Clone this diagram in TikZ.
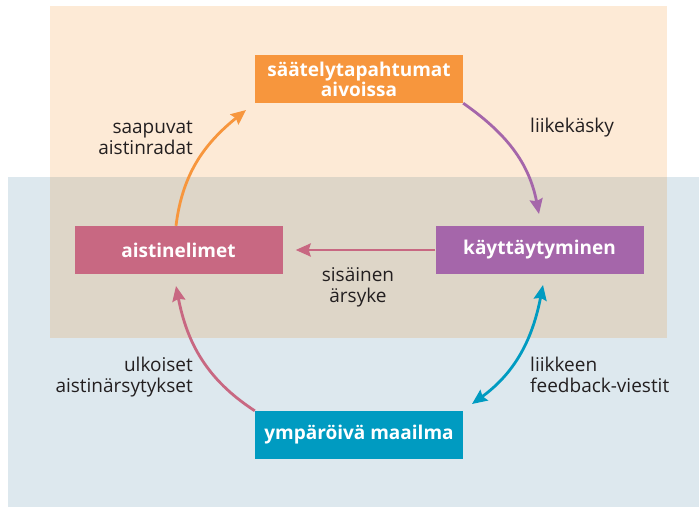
\documentclass[tikz,border=0pt]{standalone}
\usepackage{fontspec}
\setmainfont{Open Sans}
\usetikzlibrary{arrows.meta}
\definecolor{bgorange}{HTML}{FDEAD6}
\definecolor{bgblue}{HTML}{DDE8EE}
\definecolor{bgmix}{HTML}{DED6C8}
\definecolor{corange}{HTML}{F7963D}
\definecolor{cpink}{HTML}{C86882}
\definecolor{cpurple}{HTML}{A566AA}
\definecolor{cblue}{HTML}{009BC1}
\definecolor{ctext}{HTML}{231F20}
\tikzset{
  boxnode/.style={minimum width=208pt, minimum height=48pt, inner sep=0pt, text=white,
    font=\fontsize{19}{18.5}\selectfont\bfseries, align=center},
  lbl/.style={text=ctext, font=\fontsize{19}{20.5}\selectfont, inner sep=0pt},
  conn/.style={line width=2.8pt, -{Stealth[length=15pt,width=13pt,inset=2pt]}},
}
\begin{document}
\begin{tikzpicture}[x=1pt,y=1pt]
\useasboundingbox (0,0) rectangle (699,-508);
\fill[white] (0,0) rectangle (699,-508);
\fill[bgblue] (8,-177) rectangle (699,-507);
\fill[bgorange] (50,-6) rectangle (667,-177);
\fill[bgmix] (50,-177) rectangle (667,-338);

\node[boxnode, fill=corange] (saat) at (359,-79) {säätelytapahtumat\\aivoissa};
\node[boxnode, fill=cpink] (aist) at (178.5,-250) {aistinelimet};
\node[boxnode, fill=cpurple] (kay) at (539.5,-250) {käyttäytyminen};
\node[boxnode, fill=cblue] (ymp) at (359,-435) {ympäröivä maailma};

\coordinate (t1) at (246,-110);
\coordinate (t2) at (539,-214);
\coordinate (t3) at (176,-286);
\coordinate (t4a) at (543,-285);
\coordinate (t4b) at (472,-404);

\draw[conn, draw=corange] (aist.north -| 176,0) to[out=83, in=219] (t1);
\draw[conn, draw=cpurple] (saat.south east) to[out=-35, in=101] (t2);
\draw[conn, draw=cpink, shorten >=0pt] (kay.west) -- ([xshift=13pt]aist.east);
\draw[conn, draw=cpink] (ymp.north west) to[out=147, in=-79] (t3);
\draw[line width=2.8pt, draw=cblue, {Stealth[length=15pt,width=13pt,inset=2pt]}-{Stealth[length=15pt,width=13pt,inset=2pt]}] (t4a) to[out=-101, in=36] (t4b);

\node[lbl, align=right, anchor=base east] (l1) at (193,-154) {saapuvat\\aistinradat};
\node[lbl, anchor=base west] (l2) at (530,-133) {liikekäsky};
\node[lbl, align=center, anchor=base] (l3) at (358,-302) {sisäinen\\ärsyke};
\node[lbl, align=right, anchor=base east] (l4) at (193,-392) {ulkoiset\\aistinärsytykset};
\node[lbl, align=left, anchor=base west] (l5) at (530,-392) {liikkeen\\feedback-viestit};
\end{tikzpicture}
\end{document}
